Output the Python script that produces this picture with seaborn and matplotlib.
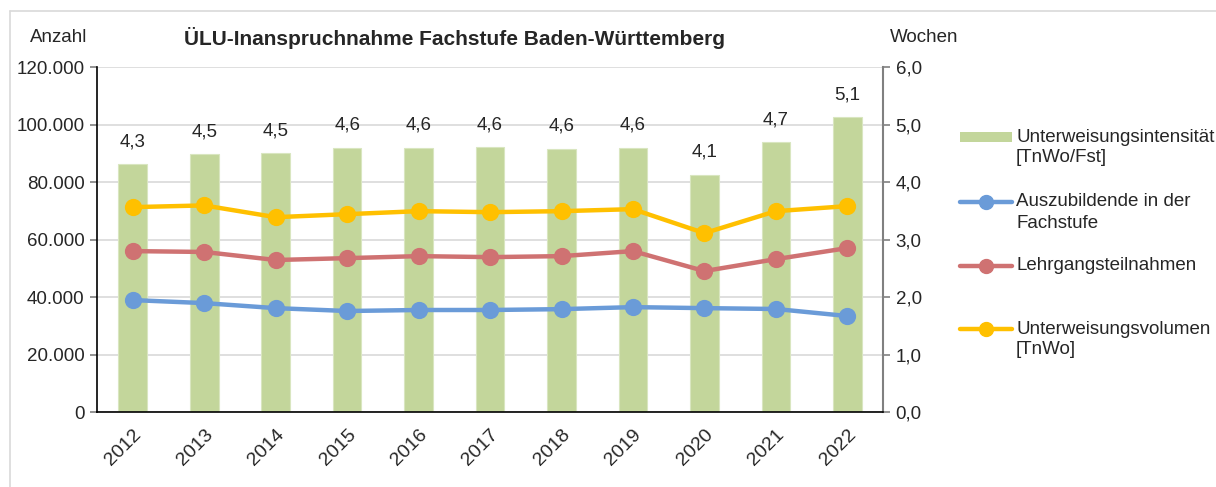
import matplotlib
matplotlib.use("Agg")
import matplotlib.pyplot as plt
import seaborn as sns
import numpy as np
from matplotlib.lines import Line2D
from matplotlib.patches import Rectangle

years = ['2012', '2013', '2014', '2015', '2016', '2017', '2018', '2019', '2020', '2021', '2022']
intensitaet = [4.31, 4.49, 4.50, 4.60, 4.60, 4.61, 4.58, 4.60, 4.13, 4.69, 5.13]
intensitaet_labels = ['4,3', '4,5', '4,5', '4,6', '4,6', '4,6', '4,6', '4,6', '4,1', '4,7', '5,1']
azubis = [38950, 37900, 36150, 35150, 35500, 35500, 35800, 36500, 36150, 35850, 33400]
teilnahmen = [56000, 55700, 52900, 53550, 54250, 53900, 54250, 56000, 49050, 53200, 57050]
volumen = [71300, 71900, 67800, 68850, 69900, 69550, 69900, 70600, 62250, 69900, 71650]

c_bar = '#C3D69B'
c_blue = '#6A9BD8'
c_red = '#CF7272'
c_yellow = '#FFC000'

sns.set_style('white')
plt.rcParams['font.family'] = ['Liberation Sans', 'DejaVu Sans']
plt.rcParams['font.size'] = 13.5

W, H = 1216, 487
fig = plt.figure(figsize=(W / 100, H / 100), dpi=100)
ax = fig.add_axes([0.0798, 0.154, 0.6464, 0.708])
ax2 = ax.twinx()

# bars on right axis, grid behind them
sns.barplot(x=years, y=intensitaet, ax=ax2, color=c_bar, width=0.4,
            saturation=1, edgecolor='#D9E6C0', linewidth=0.8, zorder=2)
ax2.bar_label(ax2.containers[0], labels=intensitaet_labels, padding=10, fontsize=13.5)
ax2.set_ylim(0, 6)
ax2.set_yticks(np.arange(0, 6.1, 1))
ax2.set_yticklabels([f'{v:.1f}'.replace('.', ',') for v in np.arange(0, 6.1, 1)])
ax2.yaxis.grid(True, color='#D9D9D9', linewidth=1.2, zorder=0)
ax2.set_axisbelow(True)
ax2.set_ylabel('')

# lines on left axis, drawn above the bars
ax.set_zorder(ax2.get_zorder() + 1)
ax.patch.set_visible(False)
for vals, col in [(azubis, c_blue), (teilnahmen, c_red), (volumen, c_yellow)]:
    sns.pointplot(x=years, y=vals, ax=ax, color=col, markers='o',
                  markersize=10, linewidth=3.2, errorbar=None)
ax.set_ylim(0, 120000)
ax.set_yticks(range(0, 120001, 20000))
ax.set_yticklabels(['0'] + [f'{v:,}'.replace(',', '.') for v in range(20000, 120001, 20000)])
ax.set_xlim(-0.5, len(years) - 0.5)
ax.set_ylabel('')

# Excel-like ticks between categories
ax.set_xticks(np.arange(len(years)))
ax.set_xticklabels(years, rotation=45, ha='right', va='top', rotation_mode='anchor', fontsize=14)
ax.set_xticks(np.arange(-0.5, len(years)), minor=True)
ax.tick_params(axis='x', which='major', length=0, pad=10)
ax.tick_params(axis='x', which='minor', length=5, color='#808080', width=1.2)
ax.tick_params(axis='y', length=5, color='#808080', width=1.2, pad=4, left=True)
ax2.tick_params(axis='y', length=5, color='#808080', width=1.2, pad=4, right=True)
ax2.tick_params(axis='x', length=0)

for a in (ax, ax2):
    a.spines['top'].set_visible(False)
ax.spines['left'].set_color('black')
ax.spines['bottom'].set_color('black')
ax.spines['left'].set_linewidth(1.2)
ax.spines['bottom'].set_linewidth(1.2)
ax.spines['right'].set_visible(False)
ax2.spines['left'].set_visible(False)
ax2.spines['bottom'].set_visible(False)
ax2.spines['right'].set_color('#808080')
ax2.spines['right'].set_linewidth(1.5)

fig.text(0.374, 0.922, 'ÜLU-Inanspruchnahme Fachstufe Baden-Württemberg',
         ha='center', va='center', fontsize=15, fontweight='bold')
fig.text(0.025, 0.922, 'Anzahl', ha='left', va='center')
fig.text(0.732, 0.922, 'Wochen', ha='left', va='center')

# legend, Excel style: symbol aligned with the first text line
legend_items = [
    ('bar', c_bar, ['Unterweisungsintensität', '[TnWo/Fst]'], 137),
    ('line', c_blue, ['Auszubildende in der', 'Fachstufe'], 202),
    ('line', c_red, ['Lehrgangsteilnahmen'], 266),
    ('line', c_yellow, ['Unterweisungsvolumen', '[TnWo]'], 329),
]
fx = lambda px: px / W
fy = lambda py: 1 - py / H
for kind, col, lines, py in legend_items:
    if kind == 'bar':
        fig.add_artist(Rectangle((fx(960), fy(py + 5)), fx(1012) - fx(960), 10 / H,
                                 transform=fig.transFigure, facecolor=col, edgecolor='none'))
    else:
        fig.add_artist(Line2D([fx(960), fx(1012)], [fy(py), fy(py)], color=col, lw=3.2,
                              transform=fig.transFigure))
        fig.add_artist(Line2D([fx(986)], [fy(py)], color=col, marker='o', markersize=10,
                              transform=fig.transFigure))
    for i, t in enumerate(lines):
        fig.text(fx(1016), fy(py + 21 * i), t, ha='left', va='center')

# chart area border (top and left)
fig.add_artist(Line2D([0.008, 1], [0.977, 0.977], color='#D9D9D9', lw=1.2))
fig.add_artist(Line2D([0.008, 0.008], [0, 0.977], color='#D9D9D9', lw=1.2))

fig.savefig('out.png', dpi=100)
